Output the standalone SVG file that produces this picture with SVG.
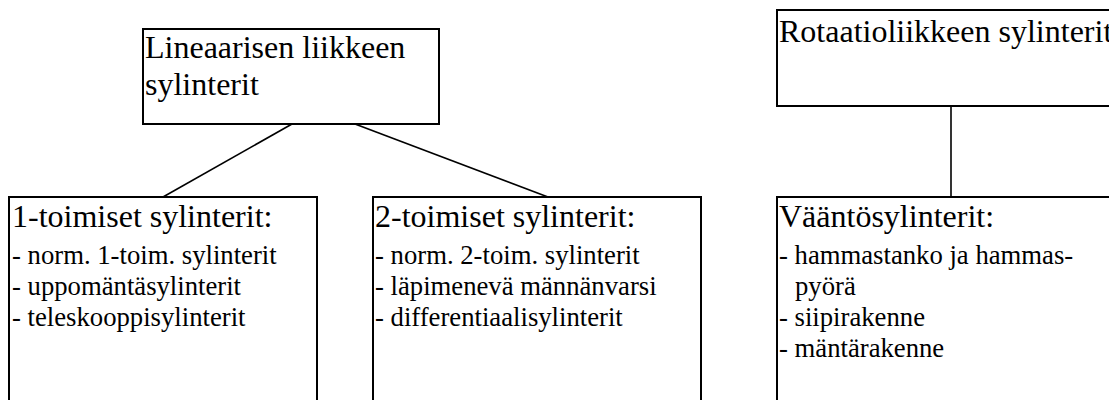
<svg xmlns="http://www.w3.org/2000/svg" width="1109" height="400" viewBox="0 0 1109 400">
<style>
.box{fill:#fff;stroke:#000;stroke-width:2}
.con{stroke:#000;stroke-width:1.6;fill:none}
.h{font-family:"Liberation Serif","Times New Roman",serif;font-size:32px;fill:#000}
.i{font-family:"Liberation Serif","Times New Roman",serif;font-size:26.7px;fill:#000}
</style>
<rect width="1109" height="400" fill="#fff"/>
<g id="connectors">
<line class="con" x1="292" y1="124" x2="163" y2="197"/>
<line class="con" x1="355" y1="124" x2="548" y2="197"/>
<line class="con" x1="951" y1="106" x2="951" y2="197"/>
</g>
<g id="node-linear">
<rect class="box" x="143" y="29" width="296" height="95"/>
<text class="h" x="145" y="58">Lineaarisen liikkeen</text>
<text class="h" x="145" y="95">sylinterit</text>
</g>
<g id="node-rotation">
<rect class="box" x="777" y="10" width="360" height="96"/>
<text class="h" x="779" y="42">Rotaatioliikkeen sylinterit</text>
</g>
<g id="node-single">
<rect class="box" x="9" y="197" width="308" height="240"/>
<text class="h" x="12" y="227">1-toimiset sylinterit:</text>
<text class="i" x="12" y="264">- norm. 1-toim. sylinterit</text>
<text class="i" x="12" y="295">- uppomäntäsylinterit</text>
<text class="i" x="12" y="326">- teleskooppisylinterit</text>
</g>
<g id="node-double">
<rect class="box" x="373" y="197" width="328" height="240"/>
<text class="h" x="375" y="227">2-toimiset sylinterit:</text>
<text class="i" x="375" y="264">- norm. 2-toim. sylinterit</text>
<text class="i" x="375" y="295">- läpimenevä männänvarsi</text>
<text class="i" x="375" y="326">- differentiaalisylinterit</text>
</g>
<g id="node-torque">
<rect class="box" x="777" y="197" width="360" height="240"/>
<text class="h" x="779" y="227">Vääntösylinterit:</text>
<text class="i" x="779" y="264">- hammastanko ja hammas-</text>
<text class="i" x="795" y="295">pyörä</text>
<text class="i" x="779" y="326">- siipirakenne</text>
<text class="i" x="779" y="357">- mäntärakenne</text>
</g>
</svg>
